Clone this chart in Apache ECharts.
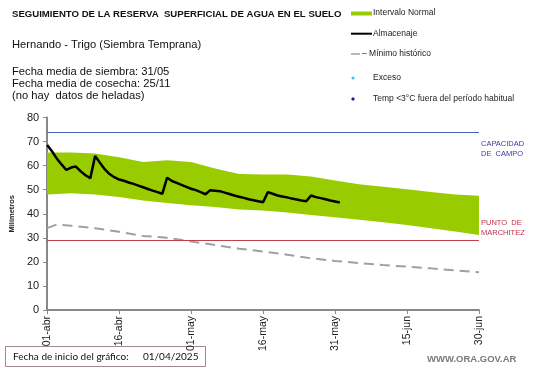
<!DOCTYPE html>
<html><head><meta charset="utf-8">
<script src="https://cdn.jsdelivr.net/npm/echarts@6/dist/echarts.min.js"></script>
<style>html,body{margin:0;padding:0;background:#fff}#c{width:541px;height:368px}</style>
</head><body><div id="c"></div><script>
// ---- data ----
const tickLabels = ['01-abr','16-abr','01-may','16-may','31-may','15-jun','30-jun'];
const bandDays  = [0,5,10,15,20,25,30,35,40,45,50,55,60,65,70,75,80,85,90];
const bandLower = [48,48.5,48,47,45.5,44.5,43.5,42.8,41.8,41.3,40.5,39.5,38.5,37.5,36.5,35.3,34,32.6,31.2];
const bandUpper = [65.5,65.5,65,63.5,61.5,62.2,61.5,58.8,56.5,56.3,56.3,55.5,53.8,52.3,51.2,50.2,49,48,47.5];
const minDays   = [0,2,5,10,15,20,25,30,35,40,45,50,55,60,65,70,75,80,85,90];
const minValues = [34,35.5,35,34,32.5,30.8,30,28.5,27,25.5,24.3,23,21.5,20.4,19.5,18.7,18,17.3,16.5,15.7];
// Almacenaje: one value per day from 01-abr
const almValues = [68.6,66,63,60.5,58.2,59.2,59.6,57.6,56,54.8,
  64,61.2,58.5,56.5,55.2,54.2,53.7,53,52.4,51.7,
  51,50.3,49.6,49,48.3,55,53.6,52.8,52,51.2,
  50.4,49.8,49,48.1,49.8,49.6,49.4,48.8,48.2,47.6,
  47.1,46.6,46,45.6,45.2,44.8,49,48.3,47.6,47.2,
  46.8,46.3,45.9,45.5,45.2,47.6,46.9,46.5,46,45.5,
  45.1,44.7];
const capacidadCampo = 74;
const puntoMarchitez = 29;

// ---- chart ----
const FONT = '"Liberation Sans", Arial, sans-serif';
const chart = echarts.init(document.getElementById('c'), null, {renderer:'canvas'});
const bandData = bandDays.map((d,i)=>[d, bandLower[i], bandUpper[i]]);
const minData = minDays.map((d,i)=>[d, minValues[i]]);
const almData = almValues.map((v,i)=>[i, v]);

const option = {
  animation:false,
  backgroundColor:'#fff',
  textStyle:{fontFamily:FONT},
  grid:{left:33, right:62, top:117.5, bottom:58, containLabel:false},
  xAxis:{type:'value', min:0, max:90, interval:15,
    axisLine:{show:true, lineStyle:{color:'#888', width:2}},
    axisTick:{show:true, length:4, lineStyle:{color:'#888', width:1}},
    splitLine:{show:false},
    axisLabel:{rotate:90, fontSize:10.5, color:'#222', margin:6, fontFamily:FONT,
      formatter:v=>tickLabels[Math.round(v/15)]}},
  yAxis:{type:'value', min:0, max:80, interval:10,
    name:'Milímetros', nameLocation:'middle', nameGap:26, nameRotate:90,
    nameTextStyle:{fontSize:7.5, fontWeight:'bold', color:'#222', fontFamily:FONT},
    axisLine:{show:true, lineStyle:{color:'#888', width:2}},
    axisTick:{show:true, length:4, lineStyle:{color:'#888', width:1}},
    splitLine:{show:false},
    axisLabel:{fontSize:11, color:'#222', margin:8, fontFamily:FONT}},
  series:[
    {type:'custom', name:'Intervalo Normal', data:bandData, silent:true, z:1,
      encode:{x:0, y:[1,2]},
      renderItem:function(params, api){
        if (params.dataIndex !== 0) return null;
        const up = bandData.map(p=>api.coord([p[0], p[2]]));
        const lo = bandData.map(p=>api.coord([p[0], p[1]])).reverse();
        return {type:'polygon', shape:{points:up.concat(lo)}, style:{fill:'#99cc00'}};
      }},
    {type:'line', name:'refs', data:[], symbol:'none', z:2,
      markLine:{silent:true, symbol:'none', label:{show:false},
        data:[
          {yAxis:capacidadCampo, lineStyle:{color:'#4a66b0', width:1, type:'solid'}},
          {yAxis:puntoMarchitez, lineStyle:{color:'#c0404e', width:1, type:'solid'}}
        ]}},
    {type:'line', name:'Mínimo histórico', data:minData, symbol:'none', z:3,
      lineStyle:{color:'#a0a0a0', width:2, type:[10,6]}},
    {type:'line', name:'Almacenaje', data:almData, symbol:'none', z:4,
      lineStyle:{color:'#000', width:2.5}}
  ]
};
chart.setOption(option);

const capPt = chart.convertToPixel({gridIndex:0}, [90, capacidadCampo]);
const marPt = chart.convertToPixel({gridIndex:0}, [90, puntoMarchitez]);
const lx = 351, tx = 373;
const legendFont = '8.5px ' + FONT;
function txt(x,y,text,font,fill){
  return {type:'text', x:x, y:y, style:{text:text, font:font, fill:fill, textVerticalAlign:'middle', textAlign:'left'}};
}
chart.setOption({graphic:[
  txt(12,14.5,'SEGUIMIENTO DE LA RESERVA  SUPERFICIAL DE AGUA EN EL SUELO','bold 9.6px '+FONT,'#111'),
  txt(12,44.5,'Hernando - Trigo (Siembra Temprana)','11.2px '+FONT,'#111'),
  txt(12,71.5,'Fecha media de siembra: 31/05','11.2px '+FONT,'#111'),
  txt(12,83.5,'Fecha media de cosecha: 25/11','11.2px '+FONT,'#111'),
  txt(12,95.5,'(no hay  datos de heladas)','11.2px '+FONT,'#111'),
  // legend
  {type:'rect', shape:{x:lx, y:11.5, width:21, height:4}, style:{fill:'#99cc00'}},
  txt(tx,12.7,'Intervalo Normal',legendFont,'#222'),
  {type:'line', shape:{x1:lx, y1:33.7, x2:lx+21, y2:33.7}, style:{stroke:'#000', lineWidth:2}},
  txt(tx,34,'Almacenaje',legendFont,'#222'),
  {type:'line', shape:{x1:lx, y1:54, x2:lx+9, y2:54}, style:{stroke:'#a0a0a0', lineWidth:1.5}},
  txt(362,54,'– Mínimo histórico',legendFont,'#222'),
  {type:'circle', shape:{cx:353, cy:78, r:1.5}, style:{fill:'#33c6dd'}},
  txt(tx,77.3,'Exceso',legendFont,'#222'),
  {type:'polygon', shape:{points:[[353,97],[355,99],[353,101],[351,99]]}, style:{fill:'#1a1aa0'}},
  txt(tx,99,'Temp <3°C fuera del período habitual',legendFont,'#222'),
  // right labels
  txt(capPt[0]+2, capPt[1]+12.2,'CAPACIDAD','7.5px '+FONT,'#3a3aa0'),
  txt(capPt[0]+2, capPt[1]+22,'DE  CAMPO','7.5px '+FONT,'#3a3aa0'),
  txt(marPt[0]+2, marPt[1]-17.5,'PUNTO  DE','7.5px '+FONT,'#c0304a'),
  txt(marPt[0]+2, marPt[1]-7.3,'MARCHITEZ','7.5px '+FONT,'#c0304a'),
  // footer
  {type:'rect', shape:{x:5.5, y:346.5, width:200, height:20}, style:{fill:'none', stroke:'#a08a8a', lineWidth:1}},
  txt(13,356.5,'Fecha de inicio del gráfico:','10px Lato, '+FONT,'#111'),
  txt(143,356.5,'01/04/2025','10px Lato, '+FONT,'#111'),
  txt(427,359,'WWW.ORA.GOV.AR','bold 9.5px '+FONT,'#7a7a7a')
]});
</script></body></html>
